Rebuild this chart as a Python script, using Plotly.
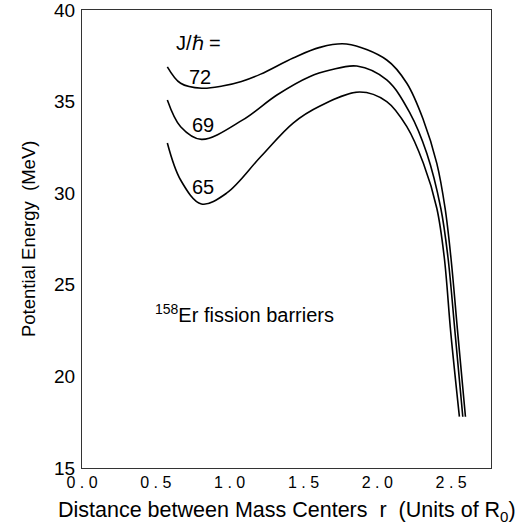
import plotly.graph_objects as go

# Data (x: r in units of R0, y: potential energy MeV)
x_72 = [0.578, 0.668, 0.811, 0.95, 1.08, 1.21, 1.43, 1.611, 1.791, 2.064, 2.20, 2.312, 2.403, 2.459, 2.498, 2.545, 2.597]
y_72 = [36.90, 36.00, 35.73, 35.85, 36.10, 36.50, 37.38, 37.96, 38.14, 37.27, 36.00, 34.00, 31.63, 29.18, 26.53, 22.35, 17.80]

x_69 = [0.578, 0.668, 0.809, 1.089, 1.32, 1.541, 1.681, 1.861, 2.064, 2.222, 2.335, 2.430, 2.478, 2.527, 2.579]
y_69 = [35.09, 33.63, 32.94, 34.00, 35.36, 36.36, 36.72, 36.94, 36.18, 34.36, 32.18, 29.18, 26.53, 22.35, 17.80]

x_65 = [0.578, 0.668, 0.809, 0.979, 1.21, 1.43, 1.612, 1.881, 2.064, 2.20, 2.312, 2.403, 2.453, 2.498, 2.556]
y_65 = [32.74, 30.72, 29.41, 30.00, 31.99, 33.83, 34.76, 35.52, 35.00, 33.63, 31.63, 29.18, 26.53, 22.35, 17.80]

x_tickvals = [0.0, 0.5, 1.0, 1.5, 2.0, 2.5]
x_ticktext = ["0 . 0", "0 . 5", "1 . 0", "1 . 5", "2 . 0", "2 . 5"]
y_tickvals = [15, 20, 25, 30, 35, 40]

FONT = "Liberation Sans, Arial, sans-serif"

fig = go.Figure()
for xs, ys in [(x_72, y_72), (x_69, y_69), (x_65, y_65)]:
    fig.add_trace(go.Scatter(x=xs, y=ys, mode="lines",
                             line=dict(color="black", width=1.6, shape="spline", smoothing=1.0),
                             showlegend=False, hoverinfo="skip"))

ann_font = dict(family=FONT, size=20, color="black")
fig.add_annotation(x=0.79, y=38.2, text="J/\u210f =", showarrow=False, font=ann_font)
fig.add_annotation(x=0.80, y=36.34, text="72", showarrow=False, font=ann_font)
fig.add_annotation(x=0.82, y=33.72, text="69", showarrow=False, font=ann_font)
fig.add_annotation(x=0.82, y=30.34, text="65", showarrow=False, font=ann_font)
fig.add_annotation(x=1.10, y=23.45, text="<sup>158</sup>Er fission barriers", showarrow=False, font=ann_font)

# axis titles as paper annotations (positioned like the reference)
fig.add_annotation(xref="paper", yref="paper", x=0.501, y=-0.096,
                   text="Distance between Mass Centers  r  (Units of R<sub>0</sub>)",
                   showarrow=False, font=dict(family=FONT, size=21.5, color="black"),
                   xanchor="center", yanchor="middle")
fig.add_annotation(xref="paper", yref="paper", x=-0.132, y=0.50,
                   text="Potential Energy  (MeV)", textangle=-90,
                   showarrow=False, font=dict(family=FONT, size=18.5, color="black"),
                   xanchor="center", yanchor="middle")

fig.update_layout(
    width=518, height=529,
    margin=dict(l=82, r=27, t=10, b=61, autoexpand=False),
    paper_bgcolor="white", plot_bgcolor="white",
    font=dict(family=FONT, size=19, color="black"),
    xaxis=dict(range=[0, 2.77], tickvals=x_tickvals, ticktext=x_ticktext,
               tickfont=dict(size=16),
               showgrid=False, zeroline=False, showline=True, mirror=True,
               linecolor="#333", linewidth=1, ticks="", automargin=False,
               ticklabeloverflow="allow"),
    yaxis=dict(range=[15, 40], tickvals=y_tickvals,
               showgrid=False, zeroline=False, showline=True, mirror=True,
               linecolor="#333", linewidth=1, ticks="", automargin=False,
               ticklabelstandoff=2, ticklabeloverflow="allow"),
)

fig.write_html("out.html")
